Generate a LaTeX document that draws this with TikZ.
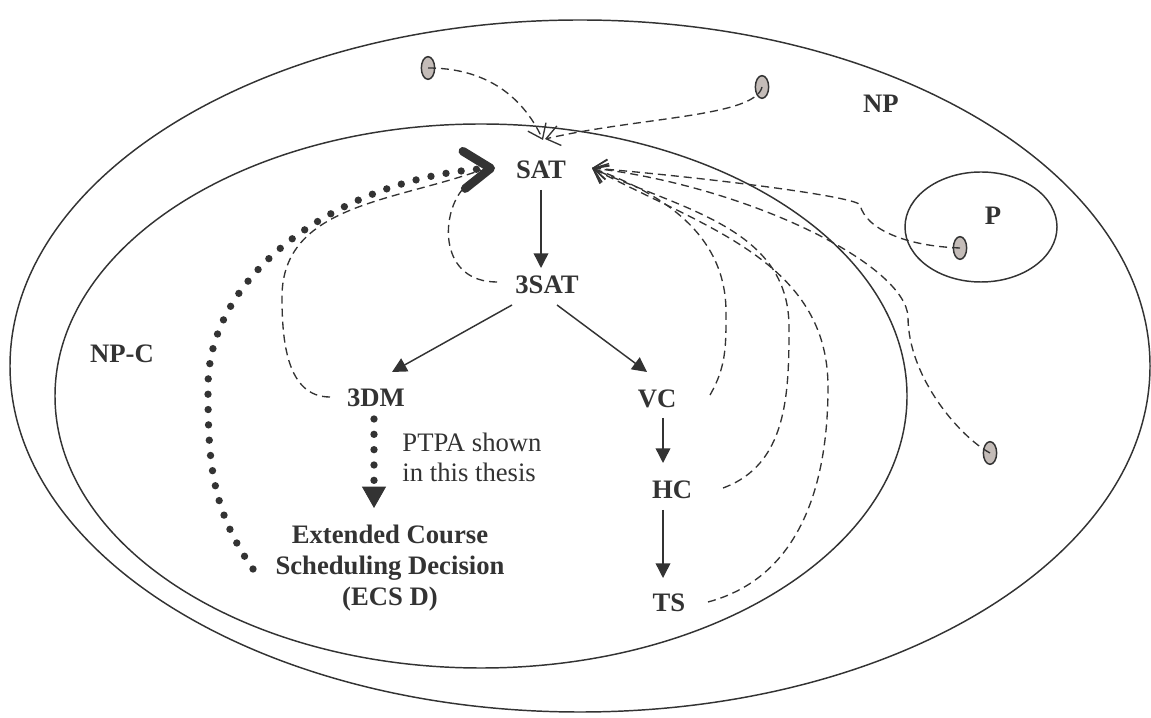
\documentclass[tikz,border=0pt]{standalone}
\usepackage{fontspec}
\setmainfont{Liberation Serif}
\usetikzlibrary{arrows.meta, shapes.geometric, calc}

\definecolor{ink}{RGB}{51,51,51}
\definecolor{dotgray}{RGB}{196,188,184}

\tikzset{
	lbl/.style={font=\bfseries\fontsize{20}{23}\selectfont, text=ink, inner sep=0pt},
	note/.style={font=\fontsize{20}{22.5}\selectfont, text=ink, align=left, inner sep=0pt},
	instance/.style={ellipse, draw=ink, fill=dotgray, line width=1.1pt, minimum width=10pt, minimum height=17pt, inner sep=0pt},
	redu/.style={draw=ink, line width=1.1pt, -{Triangle[length=11pt, width=11pt]}},
	pred/.style={draw=ink, line width=1pt, dash pattern=on 6pt off 3.75pt, -{Straight Barb[length=10pt, width=15pt]}},
	bigdots/.style={draw=ink, line width=5.5pt, line cap=round, dash pattern=on 0pt off 11.5pt}
}

\begin{document}
\begin{tikzpicture}[x=0.75pt, y=0.75pt]
	\useasboundingbox (0,0) rectangle (1151,717);

	% Define radii
	\def\rxNP{570}
	\def\ryNP{346}
	\def\rxNPC{426}
	\def\ryNPC{272}

	% Draw the classes
	\draw[ink, line width=1.1pt] (580,351) ellipse [x radius=\rxNP, y radius=\ryNP];
	\draw[ink, line width=1.1pt] (481,321) ellipse [x radius=\rxNPC, y radius=\ryNPC];
	\draw[ink, line width=1.1pt] (981,490) ellipse [x radius=76, y radius=55];

	% Class names
	\node[lbl] (np) at (881,613) {NP};
	\node[lbl] (npc) at (122,363) {NP-C};
	\node[lbl] (p) at (993,501) {P};

	% Problems
	\node[lbl] (sat) at (541,547) {SAT};
	\node[lbl] (tsat) at (547,432) {3SAT};
	\node[lbl] (tdm) at (376,319) {3DM};
	\node[lbl] (vc) at (657,318) {VC};
	\node[lbl] (hc) at (672,227) {HC};
	\node[lbl] (ts) at (669,114) {TS};
	\node[lbl, align=center] (ecsd) at (390,149) {Extended Course\\Scheduling Decision\\(ECS D)};
	\node[note] (ptpa) at (472,260) {PTPA shown\\in this thesis};

	% Some other NP problems
	\node[instance] (i1) at (428,649) {};
	\node[instance] (i2) at (762,630) {};
	\node[instance] (i3) at (960,469) {};
	\node[instance] (i4) at (990,264) {};

	% Reductions down the tree
	\draw[redu] ($(sat)+(0,-20)$) -- ($(sat |- tsat)+(0,17)$);
	\draw[redu] ($(tsat)+(-35,-20)$) -- ($(tdm)+(16,26)$);
	\draw[redu] ($(tsat)+(10,-20)$) -- ($(vc)+(-10,27)$);
	\draw[redu] ($(vc)+(6,-19)$) -- ($(vc |- hc)+(6,27)$);
	\draw[redu] ($(vc |- hc)+(6,-20)$) -- ($(vc |- ts)+(6,25)$);

	% The new reduction
	\draw[bigdots, -{Triangle[length=16pt, width=18pt, line width=0.6pt]}] ($(tdm)+(-2,-21)$) -- ($(tdm |- ecsd)+(-2,60)$);
	\draw[bigdots, -{Straight Barb[length=20pt, width=28pt, line width=6.5pt, round]}] ($(ecsd)+(-137,-1)$) to[out=125, in=-90] (208,330) .. controls (208,450) and (350,540) .. ($(sat)+(-46,2)$);

	% Back to SAT (Cook)
	\draw[pred, -] ($(tsat)+(-50,3)$) .. controls (440,435) and (440,500) .. ($(sat)+(-79,-20)$);
	\draw[pred, -] ($(tdm)+(-46,1)$) to[out=180, in=-90] (282,420) to[out=90, in=200] ($(sat)+(-60,0)$);
	\draw[pred] ($(vc)+(53,4)$) to[out=60, in=-90] (726,405) to[out=90, in=-20] ($(sat)+(51,2)$);
	\draw[pred] ($(hc)+(51,2)$) to[out=20, in=-90] (789,390) to[out=90, in=-25] ($(sat)+(51,2)$);
	\draw[pred] ($(ts)+(39,1)$) to[out=15, in=-90] (828,330) to[out=90, in=-28] ($(sat)+(51,2)$);
	\draw[pred] (i3.center) .. controls (905,471) and (866,488) .. (860,512) .. controls (857,520) and (720,538) .. ($(sat)+(51,2)$);
	\draw[pred] (i4.center) .. controls (960,280) and (908,340) .. (908,400) .. controls (906,452) and (750,530) .. ($(sat)+(51,2)$);
	\draw[pred] (i1.center) to[out=0, in=115] ($(sat)+(2,30)$);
	\draw[pred] (i2.center) .. controls (755,600) and (640,600) .. ($(sat)+(4,31)$);
\end{tikzpicture}
\end{document}
